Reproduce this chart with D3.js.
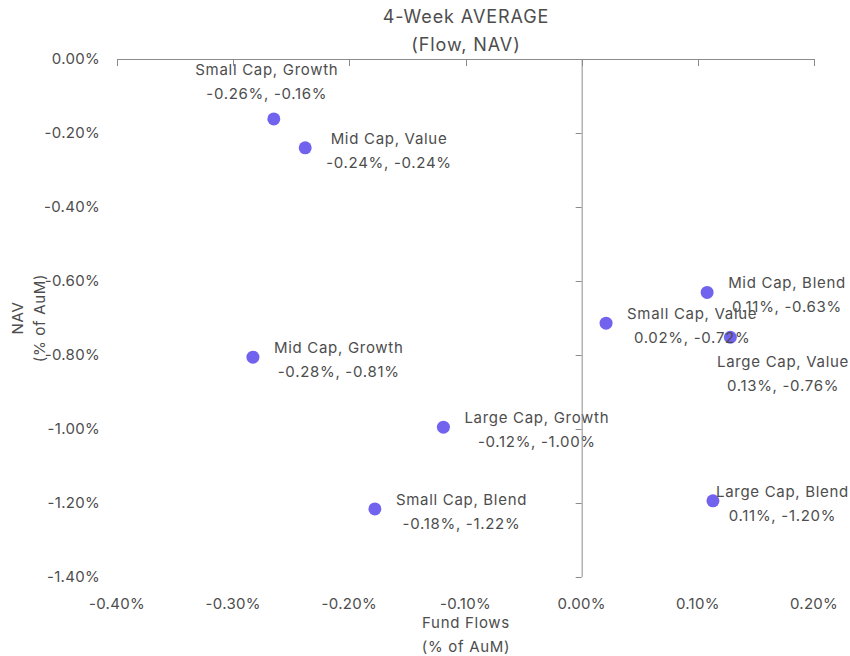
<!DOCTYPE html>
<html>
<head>
<meta charset="utf-8">
<script src="https://cdn.jsdelivr.net/npm/d3@7"></script>
<style>
  body { margin: 0; background: #fff; }
  svg text { font-family: Inter, "Noto Sans", sans-serif; fill: #4d4d4d; }
  .lbl { letter-spacing: 0.7px; }
</style>
</head>
<body>
<div id="chart"></div>
<script>
// data (% values)
const names = ["Small Cap, Growth", "Mid Cap, Value", "Mid Cap, Growth", "Large Cap, Growth",
  "Small Cap, Blend", "Small Cap, Value", "Mid Cap, Blend", "Large Cap, Value", "Large Cap, Blend"];
const flows = [-0.265, -0.238, -0.283, -0.119, -0.178, 0.021, 0.108, 0.128, 0.113];
const navs = [-0.162, -0.240, -0.806, -0.995, -1.216, -0.714, -0.631, -0.752, -1.194];
const flowLabels = ["-0.26%", "-0.24%", "-0.28%", "-0.12%", "-0.18%", "0.02%", "0.11%", "0.13%", "0.11%"];
const navLabels = ["-0.16%", "-0.24%", "-0.81%", "-1.00%", "-1.22%", "-0.72%", "-0.63%", "-0.76%", "-1.20%"];
const xTicks = [-0.4, -0.3, -0.2, -0.1, 0, 0.1, 0.2];
const yTicks = [0, -0.2, -0.4, -0.6, -0.8, -1.0, -1.2, -1.4];

// where the label sits relative to its point
const placement = { "Small Cap, Growth": "top", "Large Cap, Value": "bottom" };

const width = 850, height = 656;
const margin = { top: 59, right: 36, bottom: 79, left: 117 };

const svg = d3.select('#chart').append('svg')
    .attr('width', width)
    .attr('height', height);

const x = d3.scaleLinear().domain([-0.4, 0.2]).range([margin.left, width - margin.right]);
const y = d3.scaleLinear().domain([-1.4, 0]).range([height - margin.bottom, margin.top]);

const fmt = d => (d < 0 ? "-" : "") + Math.abs(d).toFixed(2) + "%";

// title
svg.append('text').attr('class', 'lbl').attr('x', 466).attr('y', 23).attr('text-anchor', 'middle')
    .style('font-size', '18px').style('letter-spacing', '0.9px').text('4-Week AVERAGE');
svg.append('text').attr('class', 'lbl').attr('x', 466).attr('y', 51).attr('text-anchor', 'middle')
    .style('font-size', '18px').style('letter-spacing', '0.9px').text('(Flow, NAV)');

// axis titles
svg.append('text').attr('class', 'lbl').attr('x', 466).attr('y', 628).attr('text-anchor', 'middle')
    .style('font-size', '15px').text('Fund Flows');
svg.append('text').attr('class', 'lbl').attr('x', 466).attr('y', 652).attr('text-anchor', 'middle')
    .style('font-size', '15px').text('(% of AuM)');
const yt = svg.append('g').attr('transform', `translate(0,${(y(0) + y(-1.4)) / 2}) rotate(-90)`);
yt.append('text').attr('class', 'lbl').attr('x', 0).attr('y', 23).attr('text-anchor', 'middle')
    .style('font-size', '15px').text('NAV');
yt.append('text').attr('class', 'lbl').attr('x', 0).attr('y', 45).attr('text-anchor', 'middle')
    .style('font-size', '15px').text('(% of AuM)');

// tick labels sit at the plot edges, away from the axis lines
svg.selectAll('.xtl').data(xTicks).enter().append('text')
    .attr('class', 'xtl')
    .attr('x', d => x(d)).attr('y', 609)
    .attr('text-anchor', 'middle')
    .style('font-size', '15px').style('letter-spacing', '0.3px')
    .text(fmt);
svg.selectAll('.ytl').data(yTicks).enter().append('text')
    .attr('class', 'ytl')
    .attr('x', 100).attr('y', d => y(d) + 5)
    .attr('text-anchor', 'end')
    .style('font-size', '15px').style('letter-spacing', '0.3px')
    .text(fmt);

// points
const pts = names.map((n, i) => ({ name: n, fx: flows[i], nav: navs[i], fl: flowLabels[i], nl: navLabels[i] }));

svg.selectAll('circle').data(pts).enter().append('circle')
    .attr('cx', d => x(d.fx))
    .attr('cy', d => y(d.nav))
    .attr('r', 6.5)
    .attr('fill', '#7263ee');

// labels
pts.forEach(d => {
    const px = x(d.fx), py = y(d.nav);
    const pos = placement[d.name] || 'right';
    const g = svg.append('g');
    const t1 = g.append('text').attr('class', 'lbl').attr('text-anchor', 'middle').style('font-size', '15px').text(d.name);
    const t2 = g.append('text').attr('class', 'lbl').attr('text-anchor', 'middle').style('font-size', '15px')
        .text(d.fl + ", " + d.nl);
    const w = Math.max(t1.node().getComputedTextLength(), t2.node().getComputedTextLength());
    let cx, y1;
    if (pos === 'top') { cx = px - 7; y1 = py - 44; }
    else if (pos === 'bottom') { cx = px + 21 + w / 2; y1 = py + 30; }
    else { cx = px + 21 + w / 2; y1 = py - 4; }
    cx = Math.min(cx, width - 1 - w / 2);
    t1.attr('x', cx).attr('y', y1);
    t2.attr('x', cx).attr('y', y1 + 24);
});

// axes crossing at the origin
const ax = svg.append('g').attr('stroke', '#8c8c8c').attr('stroke-width', 1).attr('fill', 'none');
ax.append('line').attr('x1', x(-0.4)).attr('x2', x(0.2)).attr('y1', y(0) + 0.5).attr('y2', y(0) + 0.5);
ax.selectAll('.xt').data(xTicks).enter().append('line')
    .attr('x1', d => Math.round(x(d)) + 0.5).attr('x2', d => Math.round(x(d)) + 0.5)
    .attr('y1', y(0)).attr('y2', y(0) + 7);
ax.append('line').attr('x1', x(0) + 0.5).attr('x2', x(0) + 0.5).attr('y1', y(0)).attr('y2', y(-1.4));
ax.selectAll('.yt').data(yTicks).enter().append('line')
    .attr('x1', x(0) - 6).attr('x2', x(0))
    .attr('y1', d => Math.round(y(d)) + 0.5).attr('y2', d => Math.round(y(d)) + 0.5);
</script>
</body>
</html>
